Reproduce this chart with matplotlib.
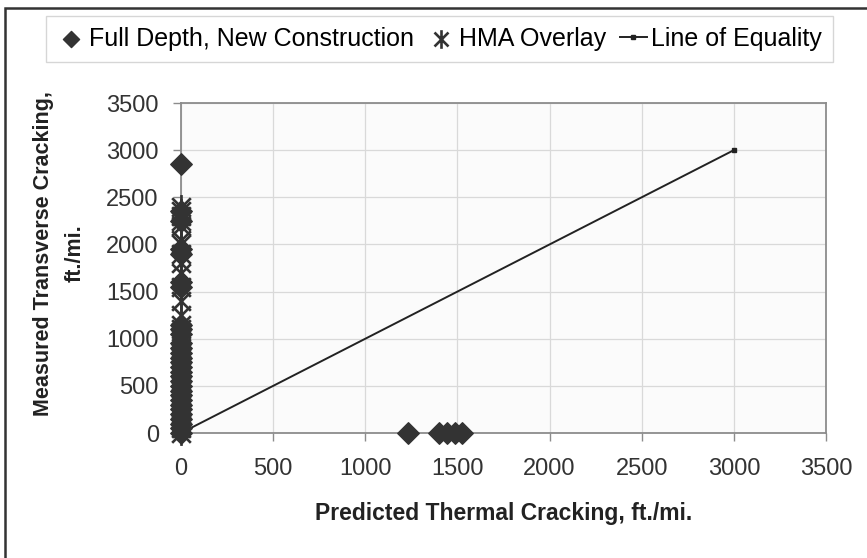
import matplotlib.pyplot as plt
from matplotlib.patches import Rectangle
from matplotlib.path import Path

plt.rcParams['font.family'] = ['Liberation Sans', 'DejaVu Sans']

# Full depth, new construction: points on the y axis and on the x axis
full_depth_x = [0] * 30 + [1230, 1400, 1445, 1485, 1525]
full_depth_y = [2850, 2350, 2250, 1950, 1900, 1600, 1550, 1150, 1100, 1050,
                950, 900, 850, 800, 750, 700, 650, 600, 550, 500,
                450, 400, 350, 300, 250, 200, 150, 100, 50, 0,
                0, 0, 0, 0, 0]

# HMA overlay
hma_y = [2400, 2350, 2300, 2250, 2200, 2050, 2000, 1900, 1800, 1700,
         1550, 1400, 1250, 1150, 1100, 1000, 900, 850, 800, 700,
         650, 550, 500, 450, 400, 350, 300, 250, 200, 100, 50, 0]
hma_x = [0] * len(hma_y)

# line of equality
eq_x = [0, 3000]
eq_y = [0, 3000]

ticks = [0, 500, 1000, 1500, 2000, 2500, 3000, 3500]

# excel style star: an X with a vertical stroke through it
star = Path([(0, -1), (0, 1), (-0.75, -0.75), (0.75, 0.75),
             (-0.75, 0.75), (0.75, -0.75)],
            [Path.MOVETO, Path.LINETO] * 3)

fig = plt.figure(figsize=(8.67, 5.58), dpi=100)
ax = fig.add_axes([0.2088, 0.224, 0.7439, 0.5914])
ax.set_facecolor('#fbfbfb')

# outer frame of the chart
fig.patches.append(Rectangle((5 / 867, -0.1), 1.2, 1 - 8 / 558 + 0.1,
                             transform=fig.transFigure, fill=False,
                             edgecolor='#333333', linewidth=1.8))

mark = '#333333'
ax.scatter(full_depth_x, full_depth_y, marker='D', s=120, color=mark,
           zorder=3, clip_on=False, label='Full Depth, New Construction')
ax.scatter(hma_x, hma_y, marker=star, s=320, color=mark,
           linewidths=1.9, zorder=4, clip_on=False, label='HMA Overlay')
ax.plot(eq_x, eq_y, color='#222222', linewidth=1.4, marker='s',
        markersize=3.5, zorder=2, label='Line of Equality')

ax.set_xlim(0, 3500)
ax.set_ylim(0, 3500)
ax.set_xticks(ticks)
ax.set_yticks(ticks)
ax.grid(True, color='#d9d9d9', linewidth=0.9)
ax.set_axisbelow(True)
for sp in ax.spines.values():
    sp.set_color('#8c8c8c')
    sp.set_linewidth(1.3)
ax.tick_params(axis='both', colors='#8c8c8c', length=6, width=1,
               labelsize=17, labelcolor='#333333')
ax.tick_params(axis='x', pad=12)
ax.tick_params(axis='y', pad=10)

ax.set_xlabel('Predicted Thermal Cracking, ft./mi.', fontsize=16.5,
              fontweight='bold', color='#222222', labelpad=16)
ax.set_ylabel('Measured Transverse Cracking,\nft./mi.', fontsize=15.5,
              fontweight='bold', color='#222222', linespacing=1.65)
ax.yaxis.set_label_coords(-0.148, 0.545)

leg = fig.legend(loc='upper center', bbox_to_anchor=(0.507, 0.972), ncol=3,
                 fontsize=18, frameon=True, fancybox=False,
                 edgecolor='#cccccc', handletextpad=0.15, columnspacing=0.55,
                 handlelength=1.1, borderpad=0.45, borderaxespad=0,
                 markerscale=0.75)
leg.get_frame().set_linewidth(1.0)

fig.savefig('out.png', dpi=100)
